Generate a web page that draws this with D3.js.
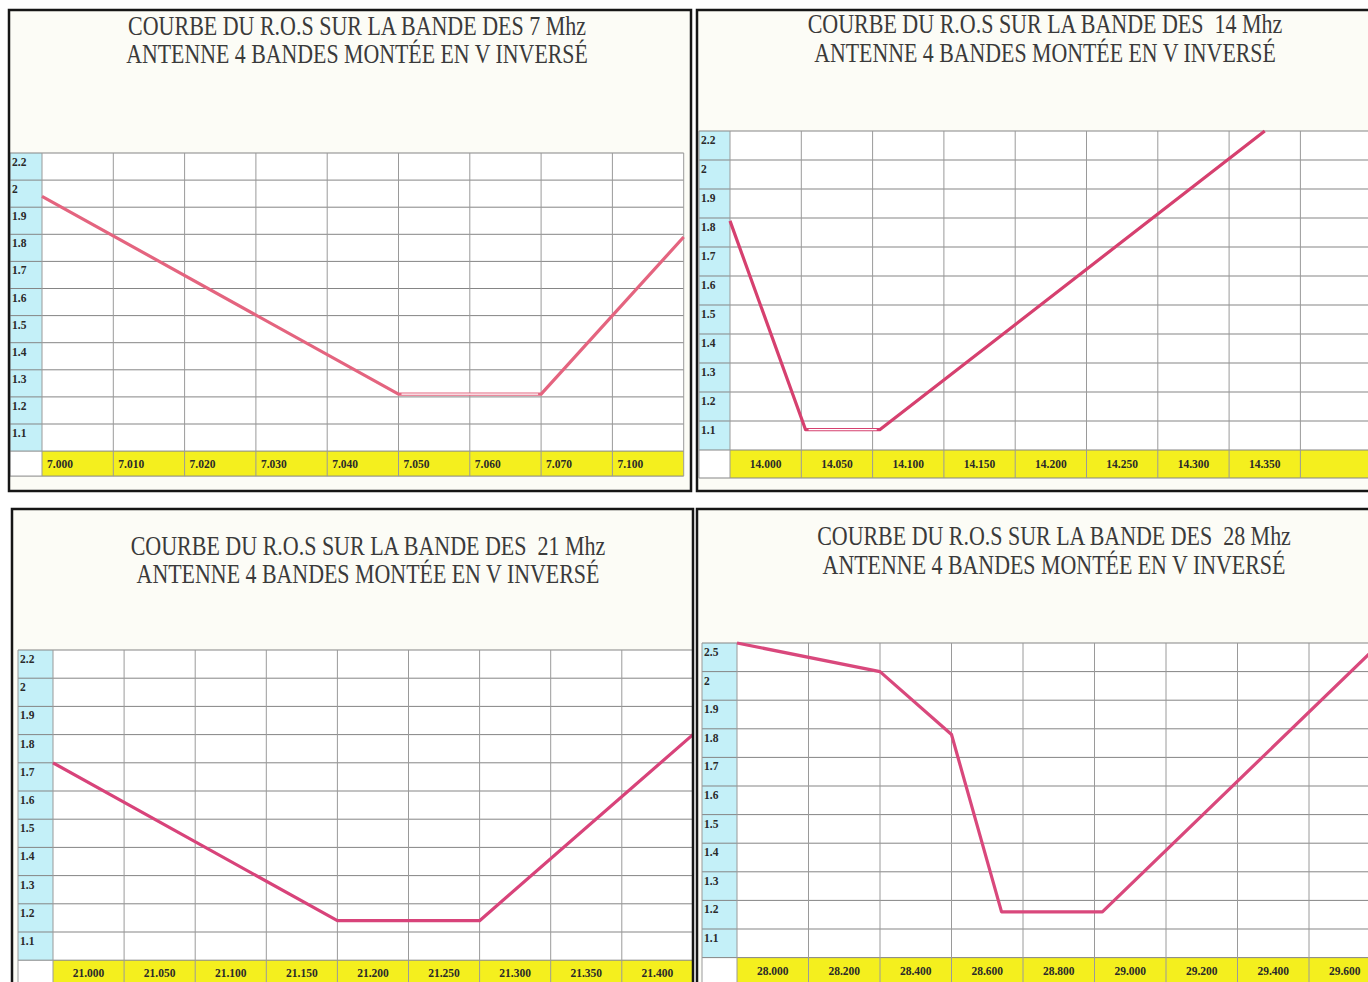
<!DOCTYPE html>
<html>
<head>
<meta charset="utf-8">
<script src="https://cdn.jsdelivr.net/npm/d3@7"></script>
<style>
body { margin: 0; background: #ffffff; }
</style>
</head>
<body>
<div id="chart"></div>
<script>
// titles
const titleStart = "COURBE DU R.O.S SUR LA BANDE DES";
const bandNames = ["7 Mhz", " 14 Mhz", " 21 Mhz", " 28 Mhz"];
const subtitle = "ANTENNE 4 BANDES MONTÉE EN V INVERSÉ";

// rows (value at the top edge of each row, last one = bottom edge)
const rowLabels = ["2.2", "2", "1.9", "1.8", "1.7", "1.6", "1.5", "1.4", "1.3", "1.2", "1.1"];
const rowValues = [2.2, 2.0, 1.9, 1.8, 1.7, 1.6, 1.5, 1.4, 1.3, 1.2, 1.1, 1.0];
const rowLabels28 = ["2.5", "2", "1.9", "1.8", "1.7", "1.6", "1.5", "1.4", "1.3", "1.2", "1.1"];
const rowValues28 = [2.5, 2.0, 1.9, 1.8, 1.7, 1.6, 1.5, 1.4, 1.3, 1.2, 1.1, 1.0];

// columns (value at the left edge of each column, last one = right edge)
const freq7 = [7.000, 7.010, 7.020, 7.030, 7.040, 7.050, 7.060, 7.070, 7.100, 7.110];
const freqLabels7 = ["7.000", "7.010", "7.020", "7.030", "7.040", "7.050", "7.060", "7.070", "7.100"];
const freq14 = [14.000, 14.050, 14.100, 14.150, 14.200, 14.250, 14.300, 14.350, 14.400, 14.450];
const freqLabels14 = ["14.000", "14.050", "14.100", "14.150", "14.200", "14.250", "14.300", "14.350", ""];
const freq21 = [21.000, 21.050, 21.100, 21.150, 21.200, 21.250, 21.300, 21.350, 21.400, 21.450];
const freqLabels21 = ["21.000", "21.050", "21.100", "21.150", "21.200", "21.250", "21.300", "21.350", "21.400"];
const freq28 = [28.000, 28.200, 28.400, 28.600, 28.800, 29.000, 29.200, 29.400, 29.600, 29.800];
const freqLabels28 = ["28.000", "28.200", "28.400", "28.600", "28.800", "29.000", "29.200", "29.400", "29.600"];

// SWR readings [MHz, ROS]
const ros7 = [[7.000, 1.94], [7.050, 1.21], [7.070, 1.21], [7.110, 1.79]];
const ros14 = [[14.000, 1.79], [14.053, 1.07], [14.105, 1.07], [14.375, 2.2]];
const ros21 = [[21.000, 1.70], [21.200, 1.14], [21.300, 1.14], [21.450, 1.80]];
const ros28 = [[28.000, 2.5], [28.400, 2.0], [28.600, 1.78], [28.740, 1.16], [29.022, 1.16], [29.800, 2.5]];

const width = 1368;
const height = 982;
const serif = "'Liberation Serif', 'DejaVu Serif', serif";

const panels = [
    { band: bandNames[0], rows: rowLabels, rowVals: rowValues, freq: freq7, labels: freqLabels7, data: ros7,
      box: { x: 9, y: 10, w: 682, h: 481 }, top: 153, rowH: 27.1, cyanL: 10, cyanR: 42, colW: 71.3, yellowH: 25,
      cx: 357, base: [35, 63], tw: [458, 462], align: "start", color: "#e4647f", hollow: true },
    { band: bandNames[1], rows: rowLabels, rowVals: rowValues, freq: freq14, labels: freqLabels14, data: ros14,
      box: { x: 697, y: 10, w: 700, h: 481 }, top: 131, rowH: 29, cyanL: 699, cyanR: 730, colW: 71.3, yellowH: 28,
      cx: 1045, base: [33, 62], tw: [475, 462], align: "middle", color: "#d6406f", hollow: true },
    { band: bandNames[2], rows: rowLabels, rowVals: rowValues, freq: freq21, labels: freqLabels21, data: ros21,
      box: { x: 12, y: 509, w: 681, h: 490 }, top: 650, rowH: 28.2, cyanL: 18, cyanR: 53, colW: 71.1, yellowH: 26,
      cx: 368, base: [555, 583], tw: [475, 463], align: "middle", color: "#d8437a", hollow: false },
    { band: bandNames[3], rows: rowLabels28, rowVals: rowValues28, freq: freq28, labels: freqLabels28, data: ros28,
      box: { x: 697, y: 509, w: 700, h: 490 }, top: 643, rowH: 28.6, cyanL: 702, cyanR: 737, colW: 71.5, yellowH: 26,
      cx: 1054, base: [545, 574], tw: [474, 463], align: "middle", color: "#d9487c", hollow: false }
];

const svg = d3.select("#chart").append("svg")
    .attr("width", width)
    .attr("height", height)
    .style("display", "block");

svg.append("rect")
    .attr("width", width)
    .attr("height", height)
    .attr("fill", "#ffffff");

panels.forEach(p => {
    const g = svg.append("g");

    const x = d3.scaleLinear()
        .domain(p.freq)
        .range(p.freq.map((d, i) => p.cyanR + i * p.colW));
    const y = d3.scaleLinear()
        .domain(p.rowVals)
        .range(p.rowVals.map((d, i) => p.top + i * p.rowH));

    const xEnd = x(p.freq[p.freq.length - 1]);
    const yBottom = y(p.rowVals[p.rowVals.length - 1]);

    g.append("rect")
        .attr("x", p.box.x)
        .attr("y", p.box.y)
        .attr("width", p.box.w)
        .attr("height", p.box.h)
        .attr("fill", "#fcfcf6");

    // title, squeezed horizontally like the scan
    [titleStart + " " + p.band, subtitle].forEach((t, i) => {
        const txt = g.append("text")
            .attr("text-anchor", "middle")
            .style("white-space", "pre")
            .attr("font-family", serif)
            .attr("font-size", 27)
            .attr("fill", "#3a3a3a")
            .text(t);
        const natural = txt.node().getComputedTextLength();
        txt.attr("transform", `translate(${p.cx},${p.base[i]}) scale(${p.tw[i] / natural},1)`);
    });

    // grid background
    g.append("rect")
        .attr("x", p.cyanL)
        .attr("y", p.top)
        .attr("width", xEnd - p.cyanL)
        .attr("height", yBottom - p.top + p.yellowH)
        .attr("fill", "#ffffff");

    g.append("rect")
        .attr("x", p.cyanL)
        .attr("y", p.top)
        .attr("width", p.cyanR - p.cyanL)
        .attr("height", yBottom - p.top)
        .attr("fill", "#c4f0f8");

    g.append("rect")
        .attr("x", p.cyanR)
        .attr("y", yBottom)
        .attr("width", xEnd - p.cyanR)
        .attr("height", p.yellowH)
        .attr("fill", "#f4ef1e");

    // grid lines
    g.selectAll(".hline")
        .data(p.rowVals)
        .join("line")
        .attr("x1", p.cyanL)
        .attr("x2", xEnd)
        .attr("y1", d => y(d))
        .attr("y2", d => y(d))
        .attr("stroke", "#858585")
        .attr("stroke-width", 1);

    g.append("line")
        .attr("x1", p.cyanL)
        .attr("x2", xEnd)
        .attr("y1", yBottom + p.yellowH)
        .attr("y2", yBottom + p.yellowH)
        .attr("stroke", "#858585");

    g.selectAll(".vline")
        .data(p.freq)
        .join("line")
        .attr("x1", d => x(d))
        .attr("x2", d => x(d))
        .attr("y1", p.top)
        .attr("y2", yBottom + p.yellowH)
        .attr("stroke", "#9a9a9a")
        .attr("stroke-width", 1);

    g.append("line")
        .attr("x1", p.cyanL)
        .attr("x2", p.cyanL)
        .attr("y1", p.top)
        .attr("y2", yBottom + p.yellowH)
        .attr("stroke", "#9a9a9a");

    // row labels
    g.selectAll(".rowlab")
        .data(p.rows)
        .join("text")
        .attr("x", p.cyanL + 2)
        .attr("y", (d, i) => y(p.rowVals[i]) + 13)
        .attr("font-family", serif)
        .attr("font-weight", "bold")
        .attr("font-size", 11.5)
        .attr("fill", "#2a2a2a")
        .text(d => d);

    // column labels
    g.selectAll(".collab")
        .data(p.labels)
        .join("text")
        .attr("x", (d, i) => p.align === "start" ? x(p.freq[i]) + 5 : (x(p.freq[i]) + x(p.freq[i + 1])) / 2)
        .attr("y", yBottom + p.yellowH / 2 + 4)
        .attr("text-anchor", p.align)
        .attr("font-family", serif)
        .attr("font-weight", "bold")
        .attr("font-size", 11.5)
        .attr("fill", "#2a2a2a")
        .text(d => d);

    // SWR curve
    const line = d3.line()
        .x(d => x(d[0]))
        .y(d => y(d[1]));

    g.append("path")
        .datum(p.data)
        .attr("d", line)
        .attr("fill", "none")
        .attr("stroke", p.color)
        .attr("stroke-width", 3.2)
        .attr("stroke-linejoin", "round");

    if (p.hollow) {
        const flats = d3.pairs(p.data).filter(([a, b]) => a[1] === b[1]);
        g.selectAll(".flat")
            .data(flats)
            .join("line")
            .attr("x1", d => x(d[0][0]) + 3)
            .attr("x2", d => x(d[1][0]) - 3)
            .attr("y1", d => y(d[0][1]))
            .attr("y2", d => y(d[1][1]))
            .attr("stroke", "#ffffff")
            .attr("stroke-width", 1.2);
    }

    // frame
    g.append("rect")
        .attr("x", p.box.x)
        .attr("y", p.box.y)
        .attr("width", p.box.w)
        .attr("height", p.box.h)
        .attr("fill", "none")
        .attr("stroke", "#161616")
        .attr("stroke-width", 2.5);
});
</script>
</body>
</html>
